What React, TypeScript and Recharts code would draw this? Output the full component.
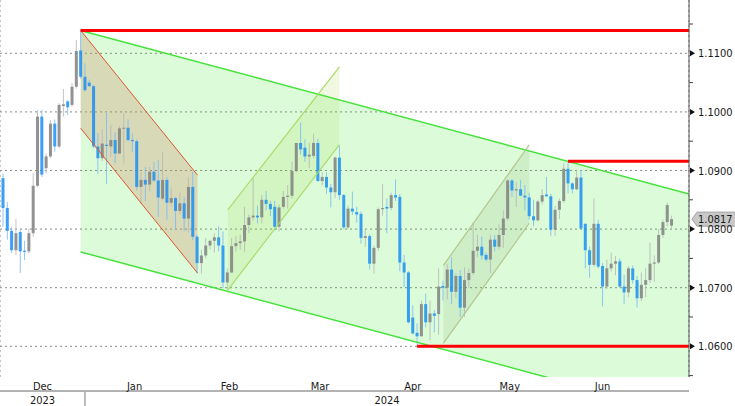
import { ComposedChart, Bar, Area, XAxis, YAxis, CartesianGrid, ReferenceLine } from "recharts"

// daily EUR/USD candles, one slot per weekday from early Dec 2023 to early Jul 2024
const opens = [
  1.0887, 1.0836, 1.0797, 1.0764, 1.0795, 1.0763, 1.0762, 1.0793, 1.0874, 1.0992,
  1.0904, 1.0924, 1.098, 1.0941, 1.101, 1.1018, 1.1012, 1.1043, 1.1105, 1.106,
  1.105, 1.1044, 1.0941, 1.0921, 1.0944, 1.0941, 1.0952, 1.0929, 1.0972, 1.0973,
  1.0952, 1.095, 1.0872, 1.0884, 1.0876, 1.0898, 1.0883, 1.0852, 1.0884, 1.0845,
  1.0853, 1.0831, 1.0844, 1.0818, 1.0872, 1.0787, 1.0742, 1.0755, 1.0772, 1.078,
  1.0786, 1.0772, 1.0709, 1.0726, 1.0771, 1.0776, 1.0779, 1.0807, 1.082, 1.0823,
  1.082, 1.085, 1.0843, 1.0838, 1.0804, 1.0838, 1.0855, 1.0857, 1.0899, 1.0947,
  1.0939, 1.0924, 1.0925, 1.0947, 1.0882, 1.0889, 1.0871, 1.0863, 1.0922, 1.0858,
  1.0803, 1.0835, 1.0829, 1.0826, 1.0785, 1.0788, 1.0741, 1.0768, 1.0834, 1.0838,
  1.0836, 1.0858, 1.0855, 1.0743, 1.0726, 1.0649, 1.0623, 1.0617, 1.0672, 1.0641,
  1.0656, 1.0655, 1.0703, 1.07, 1.0731, 1.0693, 1.072, 1.0666, 1.0713, 1.0725,
  1.0763, 1.077, 1.0756, 1.0748, 1.0782, 1.077, 1.079, 1.0818, 1.0883, 1.0866,
  1.0868, 1.0857, 1.0854, 1.0822, 1.0815, 1.0847, 1.0859, 1.0856, 1.0799, 1.0833,
  1.0848, 1.0903, 1.0878, 1.0868, 1.0888, 1.0809, 1.0764, 1.0739, 1.0809, 1.0737,
  1.0702, 1.0733, 1.0741, 1.0745, 1.0702, 1.0692, 1.0733, 1.0713, 1.0682, 1.0705,
  1.0713, 1.0741, 1.0743, 1.079, 1.0812, 1.0806,
]
const highs = [
  1.0895, 1.0846, 1.0804, 1.0817, 1.0801, 1.078, 1.0801, 1.0895, 1.1003, 1.1003,
  1.0929, 1.0986, 1.0987, 1.1015, 1.1039, 1.102, 1.1049, 1.1123, 1.1139, 1.1083,
  1.1055, 1.1046, 1.0964, 1.097, 1.0998, 1.0978, 1.0966, 1.0976, 1.0998, 1.0987,
  1.0963, 1.0953, 1.0897, 1.0906, 1.0906, 1.0915, 1.0918, 1.0932, 1.0889, 1.0871,
  1.0855, 1.0862, 1.0855, 1.0888, 1.0898, 1.079, 1.0765, 1.0785, 1.0782, 1.0793,
  1.0805, 1.0796, 1.0733, 1.0785, 1.0788, 1.079, 1.0838, 1.0825, 1.0888, 1.084,
  1.0858, 1.0865, 1.0848, 1.0848, 1.0842, 1.0865, 1.0875, 1.0915, 1.0947, 1.0982,
  1.0953, 1.0947, 1.0963, 1.0954, 1.0897, 1.0897, 1.0877, 1.0924, 1.0942, 1.086,
  1.084, 1.0864, 1.0838, 1.083, 1.08, 1.0791, 1.0772, 1.0837, 1.0877, 1.0852,
  1.0862, 1.0885, 1.086, 1.0756, 1.0728, 1.067, 1.0639, 1.0678, 1.069, 1.0678,
  1.0662, 1.0733, 1.0712, 1.074, 1.0752, 1.0725, 1.073, 1.0735, 1.0733, 1.0811,
  1.079, 1.0787, 1.076, 1.079, 1.079, 1.0808, 1.0832, 1.0885, 1.0885, 1.088,
  1.0884, 1.0875, 1.0862, 1.085, 1.085, 1.0868, 1.0889, 1.086, 1.084, 1.0852,
  1.0912, 1.0916, 1.088, 1.0902, 1.0901, 1.081, 1.077, 1.0852, 1.0816, 1.0742,
  1.0748, 1.076, 1.0754, 1.075, 1.0722, 1.0737, 1.0738, 1.072, 1.0726, 1.0733,
  1.0777, 1.0755, 1.08, 1.0816, 1.0845, 1.0823,
]
const lows = [
  1.0804, 1.0782, 1.0759, 1.0756, 1.0725, 1.0747, 1.0759, 1.0787, 1.0872, 1.0889,
  1.0895, 1.0921, 1.0932, 1.0938, 1.0992, 1.0995, 1.1009, 1.104, 1.1057, 1.1035,
  1.1043, 1.0938, 1.0894, 1.0916, 1.0877, 1.0924, 1.0912, 1.0928, 1.0912, 1.0949,
  1.0932, 1.0866, 1.0844, 1.0848, 1.0864, 1.088, 1.0821, 1.0849, 1.0816, 1.0838,
  1.0798, 1.0825, 1.0796, 1.0795, 1.0781, 1.0724, 1.0724, 1.075, 1.0765, 1.076,
  1.0762, 1.0699, 1.0697, 1.0725, 1.0762, 1.0765, 1.0761, 1.0793, 1.0815, 1.081,
  1.081, 1.0832, 1.0822, 1.0798, 1.0796, 1.0835, 1.0835, 1.0852, 1.0897, 1.0927,
  1.0915, 1.0904, 1.0921, 1.0881, 1.0875, 1.086, 1.0837, 1.0853, 1.085, 1.08,
  1.08, 1.0824, 1.0811, 1.0775, 1.077, 1.0731, 1.0724, 1.0763, 1.0823, 1.0793,
  1.0832, 1.0848, 1.0728, 1.0701, 1.0639, 1.062, 1.0601, 1.0617, 1.0632, 1.061,
  1.0624, 1.062, 1.0678, 1.068, 1.0672, 1.0683, 1.065, 1.065, 1.07, 1.0722,
  1.0752, 1.0748, 1.0745, 1.0725, 1.0762, 1.0765, 1.0768, 1.0815, 1.0855, 1.0838,
  1.0857, 1.0832, 1.0816, 1.0805, 1.0813, 1.0842, 1.0855, 1.0788, 1.0788, 1.0817,
  1.0845, 1.0861, 1.0861, 1.0866, 1.08, 1.0733, 1.0717, 1.0736, 1.0733, 1.0668,
  1.0698, 1.0728, 1.0721, 1.07, 1.0672, 1.0684, 1.0707, 1.0666, 1.0677, 1.0684,
  1.0708, 1.071, 1.074, 1.0785, 1.0805, 1.0802,
]
const closes = [
  1.0836, 1.0797, 1.0764, 1.0793, 1.0762, 1.0761, 1.0793, 1.0874, 1.0992, 1.0893,
  1.0924, 1.098, 1.0941, 1.1012, 1.1013, 1.1008, 1.1043, 1.1104, 1.106, 1.1037,
  1.1044, 1.0941, 1.0921, 1.0946, 1.0942, 1.0952, 1.0929, 1.0972, 1.0973, 1.0952,
  1.095, 1.0872, 1.0884, 1.0876, 1.0898, 1.0883, 1.0854, 1.0884, 1.0845, 1.0853,
  1.0831, 1.0844, 1.0818, 1.0872, 1.0787, 1.0742, 1.0755, 1.0772, 1.078, 1.0786,
  1.0772, 1.0709, 1.0726, 1.0771, 1.0776, 1.0779, 1.0807, 1.082, 1.0823, 1.082,
  1.085, 1.0843, 1.0834, 1.0804, 1.0837, 1.0855, 1.0857, 1.0899, 1.0947, 1.0936,
  1.0924, 1.0927, 1.0947, 1.0882, 1.0889, 1.0871, 1.0863, 1.0922, 1.0858, 1.0803,
  1.0835, 1.083, 1.0825, 1.0785, 1.0788, 1.0741, 1.0768, 1.0834, 1.0836, 1.0835,
  1.0858, 1.0854, 1.0743, 1.0726, 1.0641, 1.0622, 1.0617, 1.0672, 1.0641, 1.0656,
  1.0652, 1.0702, 1.07, 1.0731, 1.0693, 1.072, 1.0666, 1.0713, 1.0725, 1.0763,
  1.077, 1.0755, 1.0748, 1.0782, 1.077, 1.079, 1.0818, 1.0883, 1.0866, 1.0868,
  1.0857, 1.0854, 1.0822, 1.0815, 1.0847, 1.0858, 1.0856, 1.0799, 1.0833, 1.0848,
  1.0903, 1.0878, 1.0868, 1.0888, 1.0801, 1.0764, 1.0739, 1.0809, 1.0736, 1.0702,
  1.0733, 1.0741, 1.0745, 1.0702, 1.0692, 1.0733, 1.0713, 1.0682, 1.0705, 1.0713,
  1.0741, 1.0743, 1.079, 1.0812, 1.0841, 1.0817,
]

// slot of the last trading day in each month (grid lines sit here)
const monthEnds = [19, 42, 63, 84, 106, 129, 149]
const monthNames = ["Dec", "Jan", "Feb", "Mar", "Apr", "May", "Jun"]
const yearNames = ["2023", "2024"]
const yearBreak = 19

const xMin = -0.7
const xMax = 159.04
const yMin = 1.05476
const yMax = 1.1191

const majorTicks = [1.06, 1.07, 1.08, 1.09, 1.1, 1.11]
const minorTicks = [1.055, 1.065, 1.075, 1.085, 1.095, 1.105, 1.115]

// drawn channels: slot at each end, lower and upper price at each end
const mainChannel = { k: [18, 159.04], lower: [1.0761, 1.0482], upper: [1.1139, 1.086] }
const fallChannel = { k: [18, 45.1], lower: [1.0972, 1.0725], upper: [1.1139, 1.0892] }
const riseChannel1 = { k: [52.1, 78], lower: [1.0696, 1.0944], upper: [1.0833, 1.1077] }
const riseChannel2 = { k: [102.1, 122], lower: [1.0605, 1.081], upper: [1.0738, 1.0944] }

// horizontal red levels: price and the slot where each starts
const levelPrices = [1.1139, 1.0916, 1.06]
const levelStarts = [18, 131, 96]

const FONT = "'DejaVu Sans Condensed', 'DejaVu Sans', sans-serif"

const candles = opens.map((o, i) => ({ k: i, open: o, high: highs[i], low: lows[i], close: closes[i] }))
const monthMids = monthNames.map((_, i) => ((i === 0 ? xMin : monthEnds[i - 1]) + monthEnds[i]) / 2)
const yearMids = [(xMin + yearBreak) / 2, (yearBreak + xMax) / 2]
const lastClose = closes[closes.length - 1]

function Candle(props: any) {
  const { x, y, width, height, payload } = props
  if (!payload || x == null || y == null) return null
  const top = Math.min(y, y + height)
  const h = Math.abs(height)
  const span = payload.high - payload.low || 1e-9
  const toY = (v: number) => top + ((payload.high - v) / span) * h
  const up = payload.close >= payload.open
  const cx = x + width / 2
  const b1 = toY(Math.max(payload.open, payload.close))
  const b2 = toY(Math.min(payload.open, payload.close))
  return (
    <g opacity={0.85}>
      <line x1={cx} x2={cx} y1={top} y2={top + h} stroke={up ? "#b8b8b8" : "#7cbdf6"} strokeWidth={1} />
      <rect x={cx - 1.5} y={b1} width={3} height={Math.max(b2 - b1, 1)} fill={up ? "#808080" : "#1a8ff4"} />
    </g>
  )
}

function PriceTick({ x, y, payload }: any) {
  const v = payload.value
  const major = Math.abs(v * 100 - Math.round(v * 100)) < 1e-6
  if (!major) return <line x1={x} x2={x + 4} y1={y} y2={y} stroke="#444" />
  return (
    <g>
      <path d={`M${x + 1},${y - 3} L${x + 6},${y} L${x + 1},${y + 3} Z`} fill="#111" />
      <text x={x + 9} y={y} dy={4} fontSize={11} fontFamily={FONT} fill="#1a1a1a">
        {v.toFixed(4)}
      </text>
    </g>
  )
}

function MonthTick({ x, y, index }: any) {
  return (
    <text x={x} y={y} dy={13} textAnchor="middle" fontSize={11} fontFamily={FONT} fill="#1a1a1a">
      {monthNames[index]}
    </text>
  )
}

function YearTick({ x, y, payload }: any) {
  if (payload.value === yearBreak) return <line x1={x} x2={x} y1={y} y2={y + 14} stroke="#777" />
  const i = yearMids.indexOf(payload.value)
  return (
    <text x={x} y={y} dy={12} textAnchor="middle" fontSize={11} fontFamily={FONT} fill="#1a1a1a">
      {yearNames[i]}
    </text>
  )
}

function PriceTag({ viewBox }: any) {
  if (!viewBox) return null
  const x = viewBox.x + viewBox.width
  const y = viewBox.y
  return (
    <g>
      <path
        d={`M${x + 3},${y} L${x + 8},${y - 7} H${x + 50} V${y + 7} H${x + 8} Z`}
        fill="#c8c8c8"
        stroke="#a0a0a0"
      />
      <text x={x + 9} y={y} dy={4} fontSize={11} fontFamily={FONT} fill="#1a1a1a">
        {lastClose.toFixed(4)}
      </text>
    </g>
  )
}

function channel(c: typeof mainChannel, id: string, fill: string, opacity: number, stroke: string, width: number) {
  const band = c.k.map((k, i) => ({ k, band: [c.lower[i], c.upper[i]] }))
  return [
    <Area
      key={id + "a"}
      xAxisId="m"
      data={band}
      dataKey="band"
      type="linear"
      stroke="none"
      fill={fill}
      fillOpacity={opacity}
      dot={false}
      activeDot={false}
      isAnimationActive={false}
    />,
    <ReferenceLine
      key={id + "u"}
      xAxisId="m"
      segment={[{ x: c.k[0], y: c.upper[0] }, { x: c.k[1], y: c.upper[1] }]}
      stroke={stroke}
      strokeWidth={width}
      ifOverflow="hidden"
    />,
    <ReferenceLine
      key={id + "l"}
      xAxisId="m"
      segment={[{ x: c.k[0], y: c.lower[0] }, { x: c.k[1], y: c.lower[1] }]}
      stroke={stroke}
      strokeWidth={width}
      ifOverflow="hidden"
    />,
  ]
}

export default function App() {
  return (
    <div style={{ position: "absolute", left: 0, top: 0, width: 735, height: 406, background: "#fff" }}>
      <ComposedChart width={735} height={406} data={candles} margin={{ top: 0, right: 0, bottom: 0, left: 0 }}>
        <CartesianGrid xAxisId="m" stroke="#8c8c8c" strokeDasharray="2 3" horizontalValues={majorTicks} />
        <XAxis
          xAxisId="m"
          dataKey="k"
          type="number"
          domain={[xMin, xMax]}
          allowDataOverflow
          ticks={monthEnds}
          interval={0}
          tick={false}
          tickSize={4}
          tickLine={{ stroke: "#555" }}
          axisLine={{ stroke: "#666" }}
          height={1}
        />
        <XAxis
          xAxisId="lbl"
          dataKey="k"
          type="number"
          domain={[xMin, xMax]}
          allowDataOverflow
          ticks={monthMids}
          interval={0}
          tick={<MonthTick />}
          tickLine={false}
          axisLine={false}
          tickSize={0}
          tickMargin={0}
          height={14}
        />
        <XAxis
          xAxisId="yr"
          dataKey="k"
          type="number"
          domain={[xMin, xMax]}
          allowDataOverflow
          ticks={[yearMids[0], yearBreak, yearMids[1]]}
          interval={0}
          tick={<YearTick />}
          tickLine={false}
          axisLine={false}
          tickSize={0}
          tickMargin={0}
          height={14}
        />
        <YAxis
          orientation="right"
          type="number"
          width={46}
          domain={[yMin, yMax]}
          allowDataOverflow
          ticks={[...minorTicks, ...majorTicks].sort((a, b) => a - b)}
          interval={0}
          tick={<PriceTick />}
          tickLine={false}
          tickSize={0}
          tickMargin={0}
          axisLine={{ stroke: "#555" }}
        />
        <Bar
          xAxisId="m"
          dataKey={(d: any) => [d.low, d.high]}
          barSize={3}
          shape={(p: any) => <Candle {...p} />}
          isAnimationActive={false}
        />
        {channel(mainChannel, "main", "#16eb00", 0.15, "#44e33a", 1.5)}
        {channel(fallChannel, "fall", "#cf876a", 0.3, "#de5530", 1)}
        {channel(riseChannel1, "r1", "#9ccf3c", 0.15, "#a8dc6a", 1.2)}
        {channel(riseChannel2, "r2", "#6f8a50", 0.12, "#b5c48e", 1.2)}
        {levelPrices.map((p, i) => (
          <ReferenceLine
            key={"lvl" + i}
            xAxisId="m"
            segment={[{ x: levelStarts[i], y: p }, { x: xMax, y: p }]}
            stroke="#ff0000"
            strokeWidth={3}
            ifOverflow="hidden"
          />
        ))}
        <ReferenceLine
          xAxisId="m"
          y={lastClose}
          stroke="none"
          ifOverflow="visible"
          label={{ content: (p: any) => <PriceTag viewBox={p.viewBox} /> }}
        />
      </ComposedChart>
    </div>
  )
}
